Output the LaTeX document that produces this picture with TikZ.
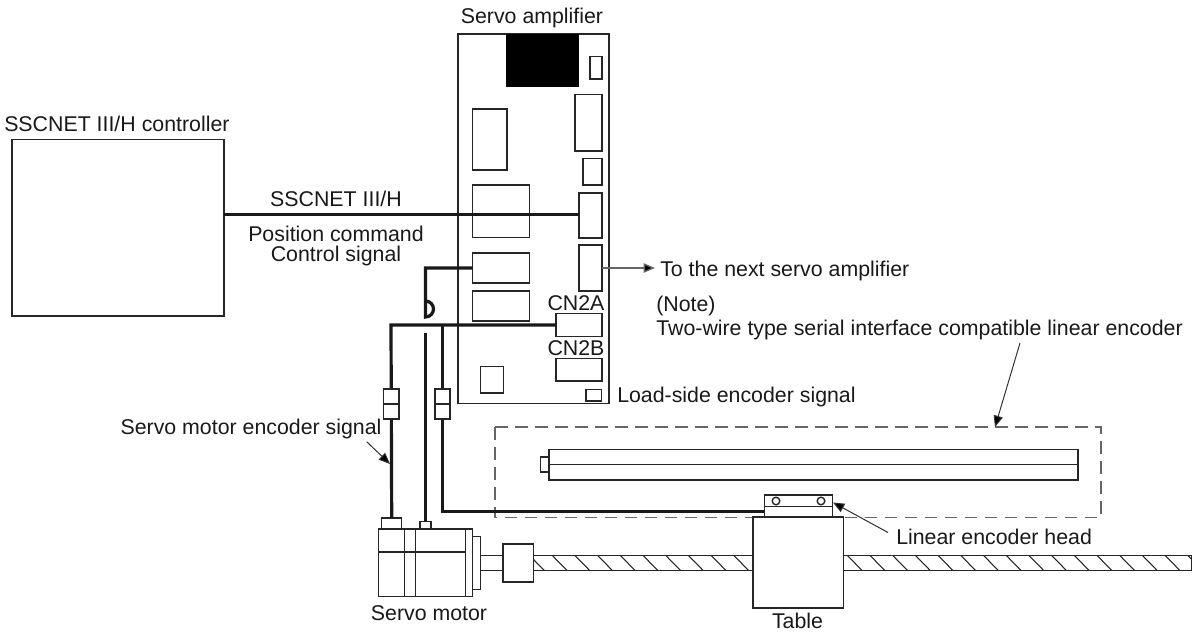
\documentclass[tikz,border=0pt]{standalone}
\usepackage{fontspec}
\setmainfont{Liberation Sans}
\usetikzlibrary{arrows.meta}
\definecolor{ln}{gray}{0.15}
\definecolor{dsh}{gray}{0.4}
\tikzset{
  x=0.75pt,y=-0.75pt,
  part/.style={draw=ln,line width=1.05pt,fill=white,rectangle,inner sep=0pt,outer sep=0pt,minimum width=0pt,minimum height=0pt},
  outline/.style={draw=ln,line width=1.05pt},
  wire/.style={draw=black!90,line width=2.4pt,line cap=butt,line join=miter},
  thinline/.style={draw=black!80,line width=0.75pt},
  lbl/.style={font=\fontsize{16pt}{18pt}\selectfont,inner sep=0pt,text=black!90},
  pointer/.style={thinline,-{Triangle[length=8.5pt,width=7pt,fill=black]}},
}
\newcommand{\partbox}[5]{\path[part] (#2,#3) rectangle (#4,#5) coordinate (#1-se);
  \coordinate (#1-nw) at (#2,#3);
  \coordinate (#1) at ({(#2+#4)/2},{(#3+#5)/2});
  \coordinate (#1-w) at (#2,{(#3+#5)/2});
  \coordinate (#1-e) at (#4,{(#3+#5)/2});
  \coordinate (#1-n) at ({(#2+#4)/2},#3);
  \coordinate (#1-s) at ({(#2+#4)/2},#5);}
\begin{document}
\begin{tikzpicture}
\useasboundingbox (0,0) rectangle (1195,635);
% controller
\partbox{ctrl}{12}{139.5}{224}{316}
% amplifier
\partbox{amp}{458}{34}{609}{403.5}
\fill[black] (506,34) rectangle (579,87);
\partbox{a1}{590}{56.5}{602}{79}
\partbox{a2}{575}{94.5}{602}{151}
\partbox{a3}{472.5}{109}{507}{170}
\partbox{a4}{583}{158.5}{602}{185}
\partbox{a5}{472.5}{185}{529.5}{237.5}
\partbox{cnA}{579}{193}{602}{238}
\partbox{cnB}{579}{245}{602}{291}
\partbox{cnC}{472.5}{253}{529.5}{283}
\partbox{a8}{472.5}{291}{529.5}{321}
\partbox{cn2a}{556}{313.5}{602}{336.5}
\partbox{cn2b}{556}{358.5}{602}{381}
\partbox{a9}{480.5}{366.5}{503.5}{393}
\partbox{a10}{586}{389.5}{601.5}{401}
% encoder dashed
\draw[draw=dsh,line width=0.95pt,dash pattern=on 9.5pt off 5.5pt] (495,427) rectangle (1101,517.5);
\partbox{encend}{540.5}{457}{549}{472}
\partbox{enc}{549}{449.5}{1078}{480}
\draw[outline] (enc-w) -- (enc-e);
% screw
\begin{scope}
\clip (533.5,555.5) rectangle (1191.5,570.5);
\foreach \i in {0,...,29} \draw[line width=0.8pt,black!85] ({529.6+22.7*\i},555.5) -- ++(15.2,15.5);
\end{scope}
\draw[outline] (480.5,555.5) -- (1191.5,555.5) -- (1191.5,570.5) -- (480.5,570.5);
% coupling, table, head
\partbox{coup}{503}{544}{533.5}{582}
\partbox{table}{753}{517}{843.7}{608}
\partbox{head}{764.3}{495}{832.7}{517}
\draw[outline] (764.3,506.7) -- (832.7,506.7);
\draw[outline] (776,501) circle (3.8);
\draw[outline] (821,501) circle (3.8);
% motor
\partbox{flange}{472.7}{536.7}{480.5}{589.5}
\partbox{motor}{378.5}{529}{472.7}{596.7}
\draw[outline] (378.5,552) -- (465.3,552);
\draw[outline] (404.7,529) -- (404.7,596.7);
\draw[outline] (415.7,529) -- (415.7,596.7);
\draw[outline] (465.3,529) -- (465.3,596.7);
\partbox{mencA}{381.7}{518}{401.7}{529}
\partbox{mencB}{420}{521.5}{431}{529}
% wires
\draw[wire] (ctrl-e |- 0,214.5) -- (cnA-w |- 0,214.5);
\coordinate (hopTop) at (425.5,317);
\coordinate (hopBot) at (425.5,333);
\draw[wire] (cnC-w) -| (hopTop) arc[start angle=90,end angle=-90,radius=8];
\draw[wire] (hopBot) -- (mencB-n);
\draw[wire] (cn2a-w) -- (391,325) -- (mencA-n);
\draw[wire] (442.5,325) -- (442.5,511.5) -- (head-w |- 0,511.5);
% wire joints
\partbox{j1}{383.5}{389}{399}{419}
\draw[outline] (383.5,404) -- (399,404);
\partbox{j2}{435}{389}{450}{419}
\draw[outline] (435,404) -- (450,404);
% arrows
\coordinate (nextEnd) at (655,268);
\draw[pointer,draw=black!60,line width=1pt] (cnB-e |- nextEnd) -- (nextEnd);
\coordinate (noteA) at (1020,343);
\coordinate (noteB) at (995,427);
\draw[pointer] (noteA) -- (noteB);
\coordinate (smA) at (366.7,441.7);
\coordinate (smB) at (390,464);
\draw[pointer] (smA) -- (smB);
\coordinate (heA) at (888,532.5);
\coordinate (heB) at (833,502.5);
\draw[pointer] (heA) -- (heB);
% labels
\node[lbl,anchor=base] (tAmp) at (532,24) {Servo amplifier};
\node[lbl,anchor=base west] (tCtrl) at (4,131.7) {SSCNET III/H controller};
\node[lbl,anchor=base] (tNet) at (336,206.7) {SSCNET III/H};
\node[lbl,anchor=base] (tPos) at (336,241) {Position command};
\node[lbl,anchor=base] (tCtl) at (336,261.7) {Control signal};
\node[lbl,anchor=base west] (tNext) at (660,276.7) {To the next servo amplifier};
\node[lbl,anchor=base] (tA) at (576,310) {CN2A};
\node[lbl,anchor=base] (tB) at (576,355) {CN2B};
\node[lbl,anchor=base west] (tNote) at (656,311) {(Note)};
\node[lbl,anchor=base west] (tTwo) at (656,335) {Two-wire type serial interface compatible linear encoder};
\node[lbl,anchor=base west] (tLoad) at (617,402.7) {Load-side encoder signal};
\node[lbl,anchor=base east] (tSme) at (381.7,434) {Servo motor encoder signal};
\node[lbl,anchor=base west] (tHead) at (896,544.3) {Linear encoder head};
\node[lbl,anchor=base] (tMotor) at (429,620) {Servo motor};
\node[lbl,anchor=base] (tTable) at (797.5,628) {Table};
\end{tikzpicture}
\end{document}
